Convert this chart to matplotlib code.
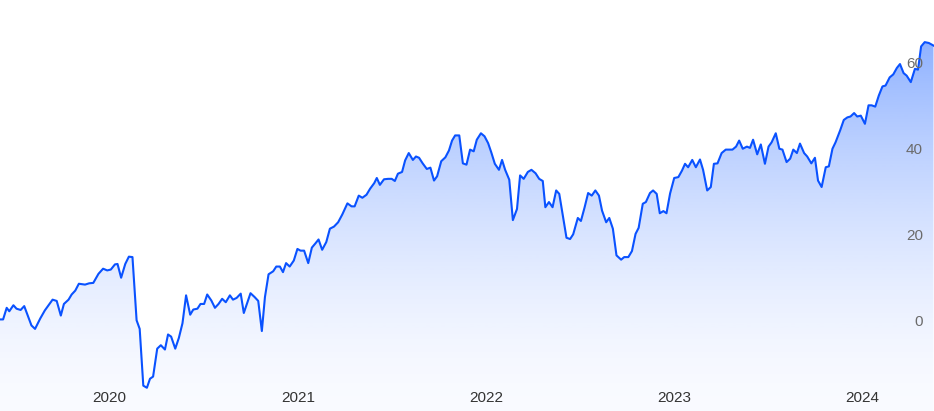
import numpy as np
import pandas as pd
import matplotlib
matplotlib.use("Agg")
import matplotlib.pyplot as plt
import matplotlib.dates as mdates
import matplotlib.transforms as mtransforms

# days since 2019-06-03 and weekly value
start = "2019-06-03"
days = [0, 6, 13, 18, 26, 32, 40, 47, 55, 61, 68, 78, 87, 96, 102, 110, 118, 124, 133, 139,
        146, 153, 165, 173, 181, 191, 200, 208, 215, 223, 228, 235, 243, 250, 257,
        265, 271, 278, 285, 291, 297, 305, 312, 320, 326, 332, 340, 347, 354, 361,
        369, 375, 383, 389, 396, 402, 410, 417, 424, 431, 438, 446, 452, 459, 467,
        473, 486, 494, 501, 508, 514, 521,
        530, 536, 543, 549, 555, 562, 570, 577, 583, 590, 598, 605, 612, 618, 625,
        633, 640, 648, 656, 664, 674, 682, 688, 696, 703, 711, 718, 726, 731, 737,
        745, 753, 760, 766, 772, 780,
        786, 793, 801, 807, 813, 820, 828, 835, 842, 848, 856, 864, 871, 877, 883,
        891, 898, 905, 912, 919, 925, 933, 940, 947, 953, 960, 968, 974, 980, 988,
        995, 1003, 1009, 1016, 1024, 1031, 1039,
        1046, 1053, 1058, 1065, 1072, 1079, 1085, 1093, 1099, 1106, 1112, 1121, 1127,
        1134, 1141, 1148, 1155, 1162, 1168, 1176, 1182, 1189, 1196, 1205, 1211, 1219,
        1226, 1233, 1239, 1247, 1253, 1261, 1267, 1274, 1280, 1287, 1293, 1300,
        1308, 1316, 1323, 1329, 1335, 1343, 1350, 1358, 1364, 1372, 1379, 1385, 1392,
        1400, 1408, 1415, 1421, 1428, 1434, 1441, 1449, 1455, 1461, 1469, 1476, 1484,
        1491, 1497, 1505, 1512, 1518, 1526, 1533, 1539, 1546, 1552, 1560,
        1566, 1574, 1581, 1587, 1594, 1602, 1608, 1615, 1621, 1630, 1637, 1644, 1650,
        1657, 1663, 1670, 1678, 1685, 1691, 1698, 1705, 1712, 1718, 1726, 1733, 1740,
        1746, 1753, 1759, 1767, 1775, 1781, 1787, 1794, 1802, 1811]
values = [0.7, 0.7, 3.4, 2.6, 4.0, 3.2, 2.9, 3.8, 1.2, -0.7, -1.5, 0.9, 2.8, 4.3, 5.3, 5.0, 1.6, 4.3, 5.3, 6.5,
          7.4, 9.0, 8.8, 9.1, 9.2, 11.3, 12.5, 12.1, 12.3, 13.5, 13.6, 10.4, 13.6, 15.3, 15.2,
          0.5, -1.5, -14.7, -15.2, -13.1, -12.6, -6.1, -5.3, -6.3, -2.8, -3.3, -6.1, -3.6, -0.2, 6.3,
          1.8, 3.0, 3.2, 4.3, 4.3, 6.5, 5.1, 3.4, 4.3, 5.5, 4.7, 6.3, 5.3, 5.7, 6.7,
          2.2, 6.8, 5.9, 5.0, -2.0, 5.9, 11.2,
          11.9, 13.0, 13.0, 11.7, 13.8, 13.0, 14.4, 17.1, 16.7, 16.7, 13.8, 17.4, 18.4, 19.3, 16.9,
          18.7, 21.8, 22.3, 23.3, 25.1, 27.7, 27.0, 27.0, 29.5, 29.0, 29.7, 31.1, 32.4, 33.6, 32.0,
          33.3, 33.4, 33.4, 32.9, 34.6, 35.0,
          37.7, 39.4, 37.8, 38.6, 38.3, 37.0, 35.7, 36.0, 33.0, 34.0, 37.5, 38.4, 40.0, 42.3, 43.5,
          43.5, 37.0, 36.7, 40.2, 39.8, 42.5, 44.0, 43.3, 41.7, 39.6, 36.9, 35.5, 37.8, 35.5, 33.2,
          23.8, 26.4, 34.2, 33.4, 35.0, 35.5, 34.7,
          33.4, 32.9, 26.8, 28.0, 26.8, 30.7, 29.9, 24.1, 19.7, 19.4, 20.5, 24.3, 23.6,
          26.7, 30.1, 29.5, 30.7, 29.5, 26.0, 23.3, 24.3, 21.8, 15.6, 14.6, 15.2, 15.2,
          16.6, 20.6, 22.0, 27.6, 28.0, 30.1, 30.7, 29.9, 25.4, 25.9, 25.4, 30.0,
          33.6, 33.8, 35.3, 36.9, 36.1, 37.8, 36.1, 37.9, 35.5, 30.7, 31.5, 36.9, 37.0,
          39.4, 40.2, 40.2, 40.2, 40.9, 42.3, 40.4, 40.9, 40.6, 42.5, 39.1, 41.4, 36.9,
          40.9, 41.9, 44.0, 40.4, 40.2, 37.3, 38.1, 40.2, 39.4, 41.6, 39.4,
          38.6, 37.0, 38.3, 33.0, 31.5, 36.1, 36.3, 40.4, 41.9, 44.7, 47.1, 47.7, 47.9,
          48.7, 47.9, 48.1, 46.2, 50.5, 50.5, 50.2, 52.8, 54.9, 55.1, 57.0, 57.7, 59.2,
          60.1, 58.0, 57.4, 55.9, 59.0, 58.8, 64.2, 65.2, 65.0, 64.4]
years = ["2020", "2021", "2022", "2023", "2024"]
yticks = [0, 20, 40, 60]

dates = pd.Timestamp(start) + pd.to_timedelta(days, unit="D")
x = mdates.date2num(dates)
y = np.array(values)

fig = plt.figure(figsize=(9.34, 4.11), dpi=100)
ax = fig.add_axes([0, 0, 1, 1])
ymin, ymax = -20.6, 75.0
xmin, xmax = x[0], mdates.date2num(pd.Timestamp(start) + pd.Timedelta(days=1812))
ax.set_xlim(xmin, xmax)
ax.set_ylim(ymin, ymax)

# gradient fill under the line
poly = ax.fill_between(x, y, ymin, facecolor="none", edgecolor="none")
f = np.linspace(0, 1, 400)
t = np.clip(f / 0.903, 0, 1)
alpha = 0.025 + 0.42 * t ** 1.6
grad = np.zeros((400, 1, 4))
grad[..., 0] = 0 / 255
grad[..., 1] = 80 / 255
grad[..., 2] = 1.0
grad[..., 3] = alpha[:, None]
im = ax.imshow(grad, extent=[xmin, xmax, ymin, ymax], origin="lower",
               aspect="auto", zorder=1, interpolation="bilinear")
path = poly.get_paths()[0]
im.set_clip_path(path, transform=ax.transData)

ax.plot(x, y, color="#0a52ff", lw=1.5, zorder=3)

for a in ["top", "right", "bottom", "left"]:
    ax.spines[a].set_visible(False)
ax.set_xticks([])
ax.set_yticks([])

font = "Liberation Sans"
for v in yticks:
    ax.text(0.988, v, str(v), transform=mtransforms.blended_transform_factory(ax.transAxes, ax.transData),
            ha="right", va="center", fontsize=11, color="#6b6b6b", family=font, zorder=4)
blend = mtransforms.blended_transform_factory(ax.transData, ax.transAxes)
for yr in years:
    ax.text(mdates.date2num(pd.Timestamp(yr + "-01-01")), 13 / 411, yr, transform=blend,
            ha="center", va="center", fontsize=11, color="#333333", family=font, zorder=4)

fig.savefig("out.png", dpi=100)
